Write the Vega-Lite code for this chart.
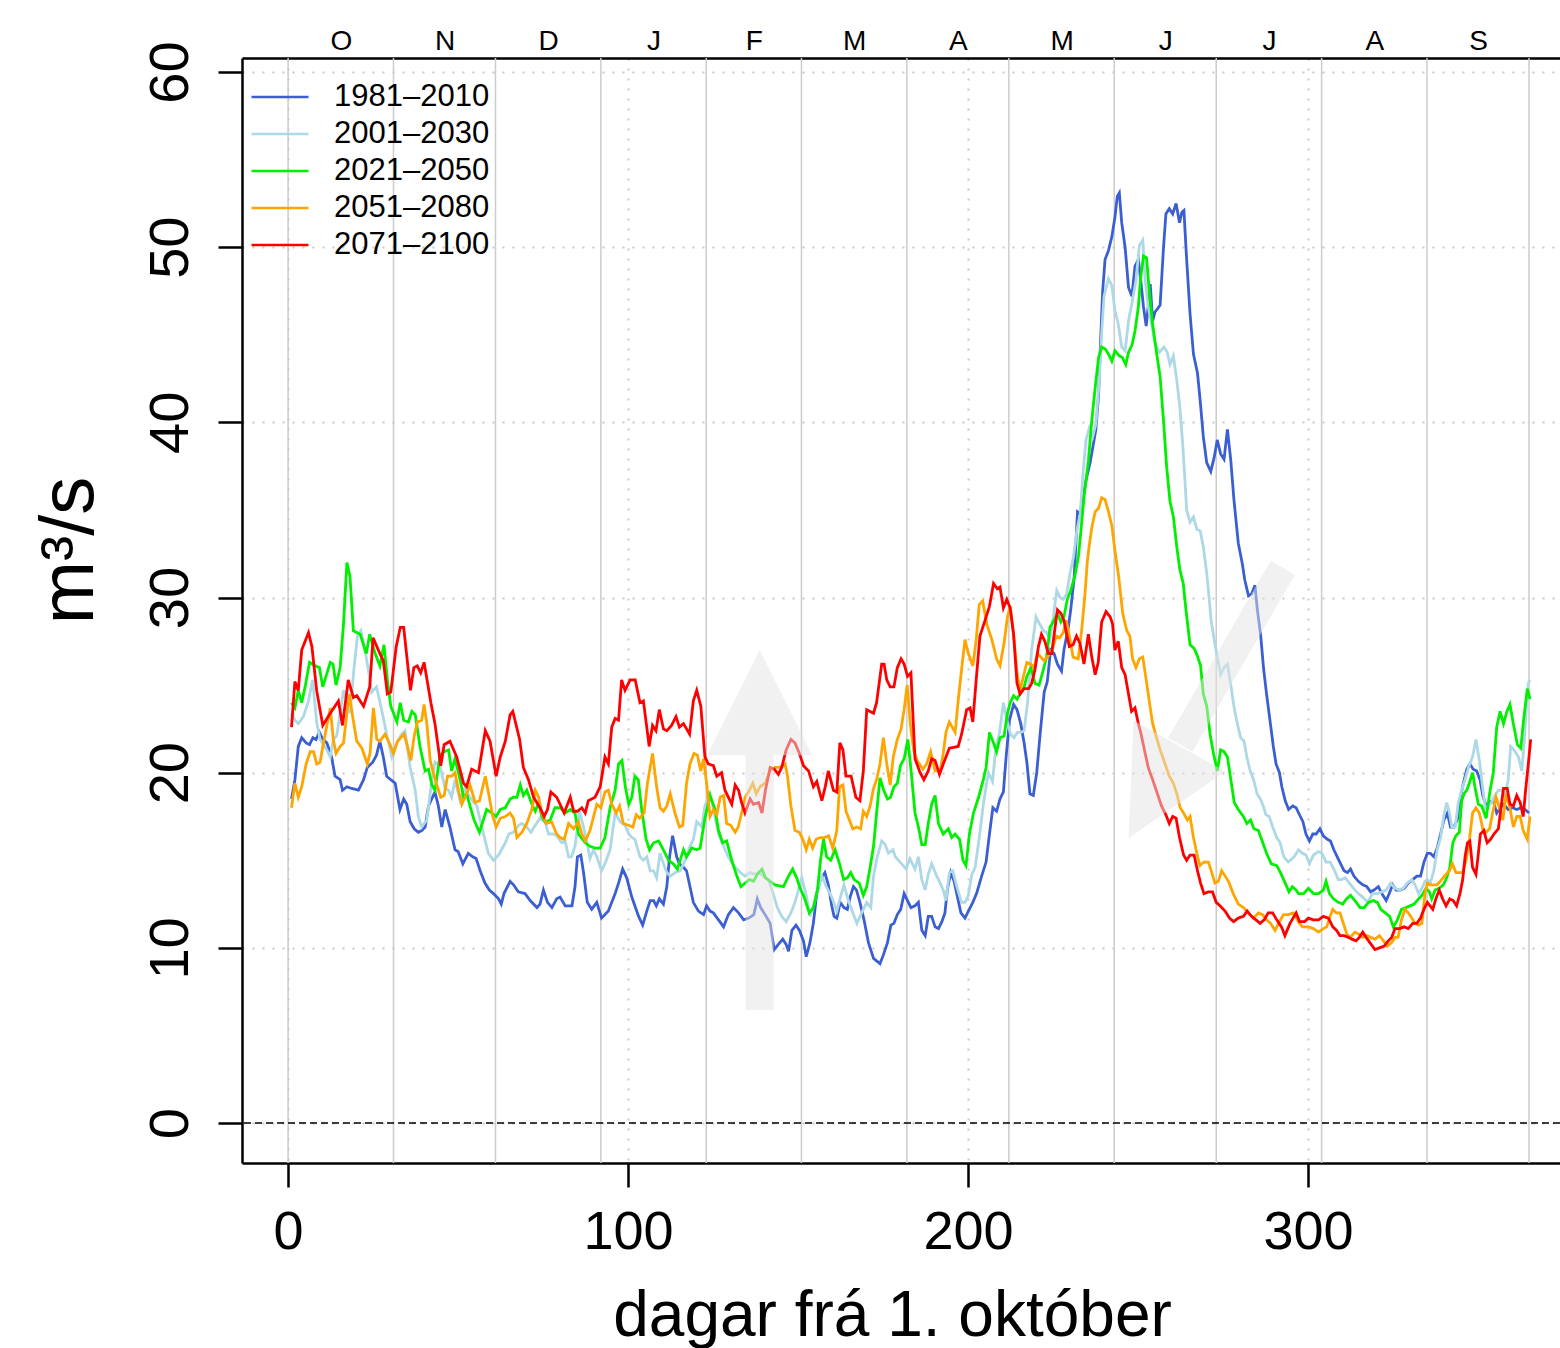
{
"$schema": "https://vega.github.io/schema/vega-lite/v6.json",
"width": 1318,
"height": 1105,
"autosize": {"type": "none"},
"padding": {"left": 242, "top": 58, "right": 0, "bottom": 185},
"background": "white",
"config": {
"font": "Liberation Sans",
"view": {"stroke": null},
"axis": {"labelFont": "Liberation Sans", "titleFont": "Liberation Sans", "labelColor": "black", "titleColor": "black", "domainColor": "black", "tickColor": "black", "titleFontWeight": "normal", "labelFlush": false, "labelOverlap": false}
},
"datasets": {
"bounds": [{"d":0},{"d":31},{"d":61},{"d":92},{"d":123},{"d":151},{"d":182},{"d":212},{"d":243},{"d":273},{"d":304},{"d":335},{"d":365}],
"shafts": [{"x":138.7,"y":6.45,"x2":138.7,"y2":21.0},{"x":292.6,"y":31.7,"x2":262.4,"y2":21.6}],
"heads": [{"x":138.7,"y":24.0,"a":0},{"x":254.7,"y":18.9,"a":209}],
"s1": [{"d":1,"v":18.5},{"d":2,"v":19.6},{"d":3,"v":21.5},{"d":4,"v":22.0},{"d":5.3,"v":21.7},{"d":6.3,"v":21.6},{"d":7.3,"v":22.0},{"d":8.2,"v":21.9},{"d":9.2,"v":22.3},{"d":10.2,"v":21.9},{"d":11.4,"v":21.7},{"d":12.8,"v":20.9},{"d":13.8,"v":19.8},{"d":15.3,"v":19.6},{"d":16,"v":19.0},{"d":17.3,"v":19.2},{"d":18.7,"v":19.1},{"d":20.7,"v":19.0},{"d":22.2,"v":19.6},{"d":23.3,"v":20.3},{"d":24.9,"v":20.6},{"d":26,"v":21.0},{"d":27,"v":21.8},{"d":28,"v":20.9},{"d":29,"v":19.8},{"d":30.2,"v":19.6},{"d":31.5,"v":19.4},{"d":32.9,"v":17.9},{"d":34,"v":18.5},{"d":34.9,"v":18.2},{"d":35.9,"v":17.2},{"d":37.1,"v":16.8},{"d":38.3,"v":16.6},{"d":39.3,"v":16.7},{"d":40.3,"v":16.9},{"d":41.3,"v":18.1},{"d":43.2,"v":18.9},{"d":44.2,"v":18.1},{"d":45.2,"v":16.9},{"d":46.2,"v":17.9},{"d":47.6,"v":16.9},{"d":49.1,"v":15.6},{"d":50,"v":15.5},{"d":51.4,"v":14.8},{"d":53,"v":15.4},{"d":54.3,"v":15.2},{"d":55.3,"v":15.1},{"d":56.5,"v":14.4},{"d":57.9,"v":13.7},{"d":59.2,"v":13.3},{"d":60.4,"v":13.1},{"d":61.9,"v":12.8},{"d":62.7,"v":12.5},{"d":63.5,"v":13.1},{"d":65.3,"v":13.8},{"d":66.3,"v":13.6},{"d":67.7,"v":13.2},{"d":69.7,"v":13.1},{"d":71.2,"v":12.7},{"d":73.2,"v":12.3},{"d":74.1,"v":12.5},{"d":75.1,"v":13.3},{"d":76.3,"v":12.6},{"d":77.6,"v":12.3},{"d":79,"v":12.8},{"d":80,"v":12.9},{"d":81.5,"v":12.4},{"d":83.5,"v":12.4},{"d":84.4,"v":13.5},{"d":85.1,"v":15.2},{"d":86.1,"v":15.3},{"d":86.9,"v":14.3},{"d":88,"v":12.6},{"d":89.3,"v":12.2},{"d":90.8,"v":12.6},{"d":92.2,"v":11.7},{"d":94.2,"v":12.1},{"d":96.2,"v":13.1},{"d":97.2,"v":13.7},{"d":98.4,"v":14.5},{"d":99.6,"v":14.0},{"d":101.1,"v":12.9},{"d":103.1,"v":11.8},{"d":104.3,"v":11.3},{"d":105.5,"v":12.1},{"d":106.5,"v":12.7},{"d":107.5,"v":12.7},{"d":108.3,"v":12.4},{"d":109.2,"v":12.8},{"d":110.4,"v":12.5},{"d":111.4,"v":13.5},{"d":112.2,"v":15.2},{"d":113.1,"v":16.4},{"d":114.3,"v":15.2},{"d":115.1,"v":14.8},{"d":116.3,"v":14.6},{"d":117.2,"v":14.4},{"d":118.2,"v":13.5},{"d":119.2,"v":12.6},{"d":120.7,"v":12.1},{"d":122.2,"v":11.9},{"d":123.1,"v":12.4},{"d":124.1,"v":12.1},{"d":125.1,"v":12.0},{"d":126.6,"v":11.6},{"d":128.1,"v":11.2},{"d":129.5,"v":11.9},{"d":131,"v":12.3},{"d":132.5,"v":12.0},{"d":134,"v":11.6},{"d":135.5,"v":11.7},{"d":137,"v":11.9},{"d":138,"v":12.8},{"d":139,"v":12.3},{"d":140.3,"v":11.9},{"d":141.8,"v":11.4},{"d":143,"v":9.9},{"d":144.2,"v":10.2},{"d":145.5,"v":10.5},{"d":146.5,"v":10.2},{"d":147.2,"v":9.8},{"d":148.2,"v":11.0},{"d":149.4,"v":11.3},{"d":150.4,"v":11.0},{"d":151.6,"v":10.4},{"d":152.4,"v":9.5},{"d":153.5,"v":10.3},{"d":154.5,"v":11.4},{"d":155.5,"v":13.1},{"d":156.6,"v":13.9},{"d":157.9,"v":14.3},{"d":158.9,"v":13.6},{"d":159.9,"v":12.4},{"d":160.6,"v":11.8},{"d":161.4,"v":11.7},{"d":162.4,"v":12.6},{"d":163.5,"v":12.3},{"d":164.5,"v":12.2},{"d":165.3,"v":12.9},{"d":166.3,"v":13.5},{"d":167.2,"v":13.3},{"d":168.2,"v":12.6},{"d":169.4,"v":11.6},{"d":170.7,"v":10.3},{"d":172.2,"v":9.4},{"d":174.1,"v":9.1},{"d":175.1,"v":9.6},{"d":176.3,"v":10.3},{"d":177.3,"v":11.3},{"d":178.2,"v":11.4},{"d":179.2,"v":11.9},{"d":180.2,"v":12.2},{"d":181.2,"v":13.1},{"d":182.2,"v":12.7},{"d":183.2,"v":12.3},{"d":184.4,"v":12.4},{"d":185.4,"v":12.6},{"d":186.4,"v":11.0},{"d":187.4,"v":10.7},{"d":188.3,"v":11.8},{"d":189.3,"v":11.8},{"d":190.3,"v":11.2},{"d":191.3,"v":11.1},{"d":192.3,"v":11.5},{"d":193.2,"v":12.0},{"d":193.9,"v":13.3},{"d":194.9,"v":14.3},{"d":195.9,"v":13.8},{"d":196.9,"v":12.9},{"d":197.9,"v":12.0},{"d":199.1,"v":11.7},{"d":200.1,"v":12.1},{"d":201.4,"v":12.6},{"d":202.5,"v":13.1},{"d":204,"v":14.1},{"d":205.3,"v":14.9},{"d":206.3,"v":16.5},{"d":207.3,"v":18.0},{"d":208.4,"v":17.8},{"d":209.4,"v":18.5},{"d":210.4,"v":18.9},{"d":211.2,"v":20.9},{"d":212.2,"v":23.0},{"d":213.4,"v":23.9},{"d":214.4,"v":23.6},{"d":215.5,"v":22.8},{"d":216.5,"v":21.7},{"d":217.3,"v":20.6},{"d":218.2,"v":18.8},{"d":219.2,"v":18.7},{"d":220.2,"v":20.0},{"d":221.2,"v":22.2},{"d":222.4,"v":24.6},{"d":223.3,"v":25.2},{"d":224.3,"v":27.0},{"d":225.3,"v":26.8},{"d":226.3,"v":26.2},{"d":227.5,"v":25.8},{"d":228.2,"v":27.0},{"d":229.5,"v":28.3},{"d":230.2,"v":29.3},{"d":231.2,"v":31.1},{"d":232.2,"v":34.9},{"d":233,"v":34.8},{"d":233.7,"v":35.6},{"d":234.7,"v":36.7},{"d":235.9,"v":37.7},{"d":236.9,"v":38.8},{"d":237.6,"v":39.6},{"d":238.4,"v":41.6},{"d":239,"v":44.7},{"d":239.6,"v":47.5},{"d":240.3,"v":49.3},{"d":241.3,"v":49.8},{"d":242.3,"v":50.6},{"d":243.2,"v":51.7},{"d":243.9,"v":52.9},{"d":244.5,"v":53.1},{"d":245.2,"v":51.4},{"d":246.2,"v":50.0},{"d":247.2,"v":47.7},{"d":248.2,"v":47.2},{"d":249.1,"v":48.9},{"d":250.1,"v":49.3},{"d":250.8,"v":48.1},{"d":251.6,"v":46.6},{"d":252.4,"v":45.5},{"d":253.1,"v":46.8},{"d":253.6,"v":47.9},{"d":254.3,"v":45.8},{"d":255,"v":46.3},{"d":255.8,"v":46.5},{"d":256.5,"v":46.7},{"d":257.5,"v":50.0},{"d":258.2,"v":51.9},{"d":259.2,"v":52.2},{"d":260.2,"v":51.9},{"d":261.2,"v":52.5},{"d":262.2,"v":51.4},{"d":262.9,"v":52.0},{"d":263.5,"v":52.1},{"d":264.3,"v":49.3},{"d":265.3,"v":46.2},{"d":266.3,"v":43.9},{"d":267.5,"v":42.8},{"d":268.3,"v":41.2},{"d":269.2,"v":39.2},{"d":270.2,"v":37.7},{"d":271.4,"v":37.2},{"d":272.4,"v":38.0},{"d":273.3,"v":39.0},{"d":274.3,"v":38.2},{"d":275.3,"v":37.9},{"d":276.3,"v":39.6},{"d":277.3,"v":37.8},{"d":278.2,"v":35.6},{"d":279.5,"v":33.1},{"d":280.7,"v":31.9},{"d":281.4,"v":31.0},{"d":282.5,"v":30.1},{"d":283.4,"v":30.2},{"d":284.4,"v":30.7},{"d":285.1,"v":29.3},{"d":286.1,"v":27.8},{"d":286.9,"v":26.0},{"d":287.8,"v":24.5},{"d":288.8,"v":23.0},{"d":289.8,"v":21.5},{"d":290.6,"v":20.5},{"d":291.6,"v":20.0},{"d":292.3,"v":19.2},{"d":293.3,"v":18.4},{"d":294.3,"v":17.9},{"d":295.5,"v":18.1},{"d":296.5,"v":18.0},{"d":297.5,"v":17.6},{"d":298.5,"v":17.2},{"d":299.4,"v":16.5},{"d":300.4,"v":16.1},{"d":301.4,"v":16.5},{"d":302.4,"v":16.5},{"d":303.5,"v":16.8},{"d":304.5,"v":16.4},{"d":305.7,"v":16.2},{"d":306.6,"v":16.1},{"d":307.6,"v":15.6},{"d":308.6,"v":15.2},{"d":309.6,"v":14.8},{"d":310.6,"v":14.4},{"d":311.6,"v":14.3},{"d":312.5,"v":14.5},{"d":313.5,"v":14.1},{"d":314.8,"v":13.8},{"d":316.1,"v":13.6},{"d":317.3,"v":13.5},{"d":318.4,"v":13.2},{"d":319.4,"v":13.3},{"d":320.7,"v":13.5},{"d":321.7,"v":13.1},{"d":323,"v":12.7},{"d":323.9,"v":13.1},{"d":324.9,"v":13.6},{"d":325.9,"v":13.3},{"d":327.1,"v":13.3},{"d":328.3,"v":13.4},{"d":329.5,"v":13.7},{"d":330.8,"v":13.9},{"d":332,"v":14.1},{"d":333.1,"v":14.1},{"d":334.1,"v":14.9},{"d":335.1,"v":15.4},{"d":336,"v":15.4},{"d":337,"v":15.2},{"d":338,"v":15.7},{"d":339,"v":16.5},{"d":340,"v":17.3},{"d":341,"v":17.7},{"d":341.9,"v":16.9},{"d":342.9,"v":16.9},{"d":343.9,"v":17.3},{"d":344.7,"v":18.5},{"d":345.7,"v":19.4},{"d":346.7,"v":20.2},{"d":347.6,"v":20.5},{"d":348.6,"v":20.2},{"d":349.6,"v":20.1},{"d":350.6,"v":19.6},{"d":351.4,"v":18.7},{"d":352.4,"v":18.1},{"d":353.4,"v":18.3},{"d":354.5,"v":18.4},{"d":355.5,"v":17.7},{"d":356.6,"v":18.0},{"d":357.5,"v":18.2},{"d":358.9,"v":17.9},{"d":360.2,"v":18.0},{"d":361.4,"v":17.9},{"d":362.6,"v":18.0},{"d":363.8,"v":17.9},{"d":365,"v":17.7}],
"s2": [{"d":1,"v":23.4},{"d":2,"v":23.0},{"d":3,"v":22.8},{"d":4.5,"v":23.2},{"d":6,"v":24.1},{"d":7.2,"v":25.3},{"d":8.4,"v":22.9},{"d":9.4,"v":21.9},{"d":11.4,"v":21.3},{"d":12.4,"v":20.9},{"d":13.3,"v":21.9},{"d":14.3,"v":22.1},{"d":15.3,"v":23.4},{"d":16.3,"v":24.7},{"d":17.3,"v":24.1},{"d":18.2,"v":23.4},{"d":19.4,"v":26.0},{"d":20.4,"v":27.8},{"d":21.4,"v":28.1},{"d":22.6,"v":27.0},{"d":23.6,"v":25.9},{"d":24.6,"v":24.6},{"d":26,"v":24.9},{"d":27.5,"v":23.6},{"d":29,"v":22.2},{"d":30.5,"v":20.9},{"d":32,"v":21.7},{"d":33.4,"v":22.2},{"d":34.4,"v":22.4},{"d":35.9,"v":20.3},{"d":37.4,"v":19.0},{"d":38.3,"v":17.5},{"d":39.3,"v":16.9},{"d":40.8,"v":17.3},{"d":42.3,"v":19.6},{"d":43.2,"v":20.6},{"d":44.7,"v":20.4},{"d":46.2,"v":19.1},{"d":47.2,"v":19.0},{"d":48.1,"v":18.6},{"d":49.1,"v":19.6},{"d":50.6,"v":18.4},{"d":52,"v":19.1},{"d":53.5,"v":18.6},{"d":55.5,"v":18.1},{"d":57.5,"v":16.5},{"d":58.9,"v":15.4},{"d":60.4,"v":15.0},{"d":61.9,"v":15.3},{"d":63.9,"v":16.0},{"d":64.9,"v":16.5},{"d":66.3,"v":16.6},{"d":67.8,"v":17.0},{"d":68.8,"v":17.1},{"d":70.2,"v":16.9},{"d":71.4,"v":16.6},{"d":72.7,"v":17.0},{"d":74.1,"v":17.4},{"d":75.6,"v":17.2},{"d":76.6,"v":16.5},{"d":78,"v":16.5},{"d":79,"v":16.4},{"d":80.5,"v":16.0},{"d":81.5,"v":16.1},{"d":82.5,"v":15.2},{"d":83.4,"v":15.2},{"d":84.4,"v":15.8},{"d":85.7,"v":17.8},{"d":86.9,"v":16.9},{"d":87.8,"v":16.1},{"d":88.8,"v":15.1},{"d":89.8,"v":15.6},{"d":90.8,"v":15.2},{"d":92.2,"v":14.4},{"d":93.2,"v":14.8},{"d":94.7,"v":15.6},{"d":96.2,"v":17.7},{"d":97.7,"v":17.2},{"d":99.1,"v":17.0},{"d":100.2,"v":16.5},{"d":101.1,"v":16.3},{"d":102,"v":16.2},{"d":103.5,"v":15.2},{"d":104.5,"v":15.0},{"d":105.5,"v":15.2},{"d":106.5,"v":14.4},{"d":107.5,"v":14.4},{"d":108.4,"v":14.0},{"d":109.4,"v":15.4},{"d":110.4,"v":14.8},{"d":111.4,"v":14.3},{"d":112.4,"v":14.1},{"d":113.9,"v":14.3},{"d":115.3,"v":14.4},{"d":116.8,"v":15.0},{"d":118.2,"v":15.8},{"d":119.2,"v":16.2},{"d":120.2,"v":17.2},{"d":121.7,"v":16.9},{"d":122.6,"v":18.1},{"d":124.1,"v":18.8},{"d":125.1,"v":17.9},{"d":126.6,"v":16.5},{"d":128.1,"v":15.8},{"d":129.5,"v":15.2},{"d":131,"v":14.7},{"d":133,"v":14.3},{"d":134.4,"v":14.1},{"d":135.9,"v":14.3},{"d":137.4,"v":14.2},{"d":138.4,"v":14.3},{"d":139.8,"v":14.1},{"d":141.3,"v":13.9},{"d":142.7,"v":13.1},{"d":143.9,"v":12.3},{"d":145.2,"v":11.8},{"d":146.5,"v":11.5},{"d":147.9,"v":12.0},{"d":149.1,"v":12.6},{"d":150.1,"v":13.3},{"d":151.1,"v":14.0},{"d":152.4,"v":13.0},{"d":153.5,"v":11.8},{"d":154.7,"v":12.5},{"d":156,"v":13.5},{"d":157,"v":14.1},{"d":158.3,"v":13.5},{"d":159.9,"v":12.9},{"d":161.4,"v":12.1},{"d":162.6,"v":13.0},{"d":163.5,"v":13.6},{"d":164.8,"v":12.7},{"d":166.3,"v":11.9},{"d":167.3,"v":11.4},{"d":168.7,"v":12.0},{"d":170.2,"v":12.6},{"d":171.4,"v":12.3},{"d":172.2,"v":14.1},{"d":173.3,"v":15.2},{"d":174.6,"v":16.1},{"d":175.6,"v":15.9},{"d":176.6,"v":15.4},{"d":177.9,"v":15.6},{"d":178.6,"v":15.2},{"d":180.5,"v":14.8},{"d":181.8,"v":14.5},{"d":182.9,"v":15.1},{"d":184.4,"v":14.5},{"d":185.4,"v":15.2},{"d":186.4,"v":13.9},{"d":187.4,"v":13.3},{"d":188.3,"v":14.2},{"d":189.3,"v":14.8},{"d":190.8,"v":14.1},{"d":191.8,"v":13.7},{"d":192.7,"v":13.3},{"d":193.5,"v":12.7},{"d":194.5,"v":14.3},{"d":195.5,"v":14.4},{"d":196.7,"v":13.5},{"d":198.1,"v":12.6},{"d":199.1,"v":12.6},{"d":200.1,"v":13.0},{"d":201.1,"v":14.2},{"d":202.1,"v":14.6},{"d":203.3,"v":16.3},{"d":204.5,"v":18.2},{"d":205.3,"v":19.2},{"d":206,"v":20.0},{"d":207.2,"v":19.5},{"d":208.2,"v":21.5},{"d":209.2,"v":22.2},{"d":210.4,"v":24.0},{"d":211.4,"v":23.0},{"d":212.5,"v":22.2},{"d":213.5,"v":22.0},{"d":214.5,"v":22.3},{"d":215.5,"v":22.3},{"d":216.5,"v":22.4},{"d":217.5,"v":24.0},{"d":218.7,"v":27.0},{"d":220,"v":28.9},{"d":221,"v":28.5},{"d":222.2,"v":28.1},{"d":223.1,"v":28.0},{"d":224.1,"v":27.6},{"d":225.1,"v":28.9},{"d":226.1,"v":30.4},{"d":227.1,"v":30.0},{"d":228,"v":29.9},{"d":229,"v":30.2},{"d":230,"v":31.4},{"d":231,"v":32.3},{"d":232,"v":33.8},{"d":233,"v":34.8},{"d":233.9,"v":37.3},{"d":234.7,"v":39.0},{"d":235.7,"v":39.7},{"d":236.7,"v":39.2},{"d":237.6,"v":39.9},{"d":238.6,"v":42.4},{"d":239.3,"v":45.1},{"d":240,"v":47.2},{"d":241.3,"v":48.2},{"d":242.3,"v":47.8},{"d":243.2,"v":46.4},{"d":244.2,"v":45.6},{"d":245.2,"v":44.3},{"d":246.2,"v":44.1},{"d":247.2,"v":45.8},{"d":248.2,"v":46.8},{"d":249.4,"v":48.1},{"d":250.4,"v":50.1},{"d":251.4,"v":50.4},{"d":252.1,"v":48.1},{"d":253,"v":46.6},{"d":254.1,"v":45.5},{"d":255,"v":44.5},{"d":256.3,"v":44.0},{"d":257.6,"v":44.3},{"d":258.6,"v":44.0},{"d":259.4,"v":43.3},{"d":260.4,"v":43.8},{"d":261.4,"v":42.4},{"d":262.3,"v":40.9},{"d":263.2,"v":38.6},{"d":263.8,"v":36.7},{"d":264.3,"v":35.0},{"d":265.3,"v":34.3},{"d":266.3,"v":34.6},{"d":267.3,"v":33.9},{"d":268.3,"v":33.8},{"d":269.2,"v":32.9},{"d":270.2,"v":31.4},{"d":270.7,"v":30.4},{"d":271.5,"v":28.7},{"d":272.4,"v":27.6},{"d":273.3,"v":26.6},{"d":274.3,"v":25.6},{"d":275.3,"v":26.0},{"d":276.3,"v":26.2},{"d":277.3,"v":25.0},{"d":278.2,"v":23.8},{"d":279.2,"v":22.8},{"d":280.2,"v":22.0},{"d":281.2,"v":21.8},{"d":282,"v":20.9},{"d":283,"v":20.1},{"d":284,"v":19.6},{"d":285,"v":18.8},{"d":286,"v":18.5},{"d":287,"v":18.0},{"d":287.6,"v":17.6},{"d":288.6,"v":17.5},{"d":289.6,"v":16.9},{"d":290.8,"v":16.3},{"d":291.8,"v":16.0},{"d":292.9,"v":15.2},{"d":294.2,"v":14.9},{"d":295.9,"v":15.2},{"d":297.2,"v":15.6},{"d":298.4,"v":15.4},{"d":299.4,"v":15.3},{"d":300.4,"v":14.8},{"d":301.6,"v":15.3},{"d":303.1,"v":15.5},{"d":304.1,"v":15.4},{"d":305.3,"v":14.9},{"d":306.5,"v":14.9},{"d":307.6,"v":14.5},{"d":308.9,"v":13.9},{"d":309.9,"v":13.9},{"d":310.9,"v":14.0},{"d":312.2,"v":13.7},{"d":313.4,"v":13.4},{"d":314.8,"v":13.1},{"d":316.1,"v":12.9},{"d":317.5,"v":12.6},{"d":319,"v":13.1},{"d":320.4,"v":13.1},{"d":321.7,"v":13.2},{"d":323,"v":13.3},{"d":324.3,"v":13.7},{"d":325.6,"v":13.4},{"d":326.9,"v":13.3},{"d":328,"v":13.4},{"d":329.2,"v":13.7},{"d":330.5,"v":13.9},{"d":331.5,"v":13.6},{"d":332.5,"v":13.1},{"d":333.5,"v":13.4},{"d":334.4,"v":13.8},{"d":335.1,"v":13.9},{"d":336,"v":13.7},{"d":337,"v":14.4},{"d":338,"v":15.6},{"d":339,"v":16.3},{"d":340,"v":17.6},{"d":340.8,"v":18.3},{"d":341.6,"v":17.7},{"d":342.3,"v":16.9},{"d":343.3,"v":16.9},{"d":344.2,"v":18.3},{"d":345.2,"v":19.0},{"d":346.2,"v":19.6},{"d":347.2,"v":20.3},{"d":348.4,"v":20.9},{"d":349.4,"v":21.9},{"d":350.4,"v":20.7},{"d":351.1,"v":19.6},{"d":352.1,"v":18.0},{"d":353,"v":18.1},{"d":354,"v":18.3},{"d":355,"v":18.7},{"d":356,"v":19.0},{"d":357,"v":19.0},{"d":357.9,"v":18.7},{"d":358.9,"v":19.6},{"d":359.6,"v":21.5},{"d":360.6,"v":21.3},{"d":361.9,"v":20.9},{"d":362.9,"v":20.1},{"d":363.6,"v":21.8},{"d":364.2,"v":23.6},{"d":364.8,"v":25.1},{"d":365.3,"v":25.3}],
"s3": [{"d":1,"v":24.0},{"d":2,"v":23.7},{"d":3,"v":24.7},{"d":4,"v":24.0},{"d":5,"v":24.9},{"d":6.3,"v":26.3},{"d":8,"v":26.1},{"d":9.2,"v":26.0},{"d":10.2,"v":24.9},{"d":12.4,"v":26.3},{"d":13.2,"v":26.2},{"d":14.1,"v":25.0},{"d":15.3,"v":26.0},{"d":16.3,"v":28.5},{"d":17.3,"v":32.0},{"d":18.2,"v":31.2},{"d":19.2,"v":28.1},{"d":21.2,"v":27.9},{"d":23,"v":26.8},{"d":24,"v":27.9},{"d":25.6,"v":26.8},{"d":27,"v":26.1},{"d":28.2,"v":27.3},{"d":29.2,"v":25.3},{"d":30.2,"v":23.8},{"d":32,"v":22.9},{"d":33,"v":24.0},{"d":34,"v":23.0},{"d":35.4,"v":22.9},{"d":36.4,"v":23.5},{"d":37.4,"v":23.3},{"d":38.8,"v":21.5},{"d":40.3,"v":20.1},{"d":41.3,"v":20.2},{"d":42.3,"v":19.3},{"d":43.2,"v":19.0},{"d":44.7,"v":21.0},{"d":45.9,"v":21.2},{"d":47.2,"v":21.3},{"d":48.1,"v":20.1},{"d":49.1,"v":20.8},{"d":50.6,"v":19.6},{"d":51.6,"v":18.6},{"d":52.5,"v":18.8},{"d":53.5,"v":18.1},{"d":54.7,"v":17.3},{"d":56.3,"v":16.6},{"d":58.4,"v":17.9},{"d":60,"v":17.7},{"d":61.2,"v":17.5},{"d":62.4,"v":17.9},{"d":63.9,"v":18.0},{"d":65.3,"v":18.5},{"d":66.3,"v":18.6},{"d":67.3,"v":18.6},{"d":68.3,"v":19.3},{"d":69.2,"v":18.7},{"d":70.2,"v":19.0},{"d":71.7,"v":18.2},{"d":72.7,"v":17.8},{"d":73.7,"v":18.3},{"d":74.6,"v":17.5},{"d":75.6,"v":17.2},{"d":77.1,"v":17.3},{"d":78.5,"v":18.0},{"d":80,"v":18.0},{"d":81.5,"v":17.7},{"d":83,"v":17.9},{"d":84.4,"v":17.7},{"d":85.4,"v":16.5},{"d":87.4,"v":16.0},{"d":88.8,"v":15.8},{"d":90.3,"v":15.7},{"d":91.8,"v":15.7},{"d":93.2,"v":16.3},{"d":94.7,"v":18.0},{"d":96.2,"v":19.0},{"d":97.2,"v":20.5},{"d":98.2,"v":20.7},{"d":99.2,"v":19.2},{"d":100.2,"v":18.2},{"d":101.1,"v":18.6},{"d":102,"v":19.8},{"d":103,"v":19.6},{"d":104,"v":17.9},{"d":105.3,"v":16.2},{"d":106.3,"v":15.6},{"d":107.5,"v":16.0},{"d":109,"v":16.1},{"d":110.4,"v":15.6},{"d":111.9,"v":15.0},{"d":113.3,"v":14.8},{"d":114.5,"v":14.5},{"d":115.3,"v":15.0},{"d":116.3,"v":15.6},{"d":117.2,"v":15.2},{"d":118.7,"v":15.7},{"d":120.2,"v":15.6},{"d":121.2,"v":15.7},{"d":122.6,"v":17.4},{"d":124.1,"v":18.7},{"d":125.6,"v":17.9},{"d":126.6,"v":16.7},{"d":127.8,"v":16.0},{"d":129,"v":16.1},{"d":130.5,"v":15.0},{"d":132,"v":14.1},{"d":133.2,"v":13.5},{"d":134.4,"v":13.7},{"d":135.7,"v":13.9},{"d":136.9,"v":13.8},{"d":138,"v":14.2},{"d":139.4,"v":14.5},{"d":140.4,"v":14.0},{"d":141.8,"v":13.8},{"d":143.2,"v":13.6},{"d":145.7,"v":13.5},{"d":147.2,"v":14.1},{"d":148.4,"v":14.5},{"d":149.6,"v":14.0},{"d":150.6,"v":13.4},{"d":151.8,"v":12.9},{"d":153.3,"v":12.0},{"d":154.5,"v":12.3},{"d":155.7,"v":13.3},{"d":156.6,"v":15.0},{"d":157.5,"v":16.2},{"d":158.4,"v":15.2},{"d":159.6,"v":15.0},{"d":160.9,"v":15.6},{"d":162.2,"v":14.8},{"d":163.4,"v":13.9},{"d":164.5,"v":14.0},{"d":165.5,"v":14.3},{"d":166.5,"v":13.9},{"d":168,"v":13.7},{"d":169.2,"v":13.0},{"d":170.2,"v":13.5},{"d":171.2,"v":14.6},{"d":172.2,"v":15.8},{"d":173.1,"v":17.7},{"d":174.1,"v":19.7},{"d":175.2,"v":19.0},{"d":176.3,"v":18.5},{"d":177.2,"v":18.6},{"d":178.2,"v":19.2},{"d":179.2,"v":19.4},{"d":180.1,"v":20.4},{"d":181.2,"v":20.8},{"d":182.3,"v":21.9},{"d":183.2,"v":20.2},{"d":184.4,"v":17.7},{"d":185.4,"v":16.9},{"d":186.4,"v":15.9},{"d":187.4,"v":15.9},{"d":188.3,"v":17.1},{"d":189.3,"v":18.2},{"d":190.3,"v":18.7},{"d":191.3,"v":17.1},{"d":192.7,"v":16.5},{"d":194.2,"v":16.8},{"d":195.2,"v":16.3},{"d":196.2,"v":16.5},{"d":197.5,"v":16.2},{"d":198.5,"v":15.0},{"d":199.4,"v":14.7},{"d":200.4,"v":16.5},{"d":201.6,"v":17.7},{"d":203.1,"v":18.6},{"d":204.5,"v":19.6},{"d":205.3,"v":20.3},{"d":206.3,"v":22.3},{"d":207.5,"v":21.7},{"d":208.4,"v":21.2},{"d":209.4,"v":22.0},{"d":210.6,"v":22.1},{"d":211.6,"v":23.4},{"d":212.4,"v":24.0},{"d":213.4,"v":24.4},{"d":214.4,"v":24.2},{"d":215.3,"v":24.5},{"d":216.5,"v":24.9},{"d":217.3,"v":25.5},{"d":218.5,"v":26.0},{"d":219.7,"v":25.1},{"d":220.9,"v":25.0},{"d":221.9,"v":25.7},{"d":223.1,"v":26.6},{"d":224.1,"v":28.3},{"d":225.3,"v":28.7},{"d":226.3,"v":29.1},{"d":227.3,"v":28.6},{"d":228.2,"v":28.9},{"d":229.2,"v":29.9},{"d":230.2,"v":30.4},{"d":231.5,"v":31.3},{"d":232.5,"v":32.4},{"d":233.2,"v":33.8},{"d":234.1,"v":35.7},{"d":235.4,"v":37.8},{"d":236.4,"v":40.1},{"d":237.4,"v":42.0},{"d":238.4,"v":43.7},{"d":239.3,"v":44.3},{"d":240.3,"v":44.2},{"d":241.3,"v":43.9},{"d":242.3,"v":43.5},{"d":243.2,"v":44.1},{"d":244.5,"v":43.8},{"d":245.4,"v":43.7},{"d":246.4,"v":43.3},{"d":247.2,"v":44.0},{"d":248.2,"v":44.4},{"d":249.1,"v":45.2},{"d":250.1,"v":46.6},{"d":250.8,"v":48.3},{"d":251.6,"v":49.5},{"d":252.5,"v":49.4},{"d":253.3,"v":47.5},{"d":254.3,"v":45.6},{"d":255.5,"v":43.9},{"d":256.5,"v":42.6},{"d":257.5,"v":40.1},{"d":258.4,"v":37.5},{"d":259.4,"v":35.5},{"d":260.4,"v":34.6},{"d":261.4,"v":32.9},{"d":262.3,"v":31.6},{"d":263.3,"v":30.8},{"d":264.1,"v":29.3},{"d":265.3,"v":27.3},{"d":266.5,"v":27.1},{"d":267.4,"v":26.7},{"d":268.4,"v":26.1},{"d":269.2,"v":24.5},{"d":270.2,"v":23.8},{"d":271.2,"v":22.2},{"d":272.2,"v":21.1},{"d":273.3,"v":20.1},{"d":274.3,"v":21.3},{"d":275.3,"v":21.2},{"d":276.3,"v":20.9},{"d":277.3,"v":19.6},{"d":278.3,"v":18.3},{"d":279.5,"v":17.9},{"d":281,"v":17.5},{"d":282,"v":17.1},{"d":283.1,"v":17.3},{"d":284.1,"v":16.8},{"d":285.4,"v":16.7},{"d":286.7,"v":16.0},{"d":287.8,"v":15.4},{"d":289.2,"v":14.8},{"d":290.8,"v":14.7},{"d":291.9,"v":14.3},{"d":293.3,"v":13.7},{"d":294.4,"v":13.2},{"d":295.4,"v":13.5},{"d":296.5,"v":13.3},{"d":297.2,"v":13.1},{"d":298.7,"v":13.1},{"d":300.1,"v":13.4},{"d":301.6,"v":13.1},{"d":303.1,"v":13.1},{"d":304.5,"v":13.3},{"d":305.3,"v":13.8},{"d":306.3,"v":13.1},{"d":307.5,"v":12.8},{"d":308.9,"v":12.6},{"d":310.2,"v":12.5},{"d":311.3,"v":12.8},{"d":312.5,"v":13.0},{"d":313.8,"v":12.7},{"d":315.3,"v":12.3},{"d":316.5,"v":12.3},{"d":317.8,"v":12.6},{"d":319.2,"v":12.7},{"d":320.4,"v":12.6},{"d":321.4,"v":12.2},{"d":322.7,"v":12.0},{"d":324,"v":11.8},{"d":325.1,"v":11.2},{"d":326.3,"v":11.6},{"d":327.5,"v":12.2},{"d":328.8,"v":12.3},{"d":330,"v":12.4},{"d":331.2,"v":12.5},{"d":332.5,"v":12.8},{"d":333.5,"v":13.0},{"d":334.7,"v":13.4},{"d":335.7,"v":13.2},{"d":336.4,"v":12.8},{"d":337.4,"v":13.3},{"d":338.6,"v":13.4},{"d":339.8,"v":13.6},{"d":340.8,"v":14.0},{"d":341.7,"v":14.6},{"d":342.6,"v":16.0},{"d":343.5,"v":16.4},{"d":344.5,"v":16.6},{"d":345.2,"v":18.4},{"d":345.9,"v":18.8},{"d":346.7,"v":19.0},{"d":347.6,"v":19.5},{"d":348.4,"v":20.0},{"d":349.1,"v":19.2},{"d":350.1,"v":18.2},{"d":351.1,"v":18.1},{"d":352.4,"v":17.4},{"d":353.4,"v":18.8},{"d":354.5,"v":20.0},{"d":355.5,"v":22.6},{"d":356.5,"v":23.5},{"d":357.5,"v":22.8},{"d":358.5,"v":23.5},{"d":359.4,"v":23.9},{"d":360.4,"v":22.8},{"d":361.6,"v":21.6},{"d":362.6,"v":21.4},{"d":363.3,"v":22.8},{"d":364.5,"v":24.8},{"d":365.3,"v":24.2}],
"s4": [{"d":1,"v":18.0},{"d":2,"v":19.4},{"d":3,"v":18.6},{"d":4,"v":19.2},{"d":5.3,"v":20.5},{"d":6.5,"v":21.2},{"d":7.5,"v":21.2},{"d":8.4,"v":20.5},{"d":9.4,"v":20.6},{"d":10.4,"v":21.7},{"d":11.4,"v":22.7},{"d":12.4,"v":23.7},{"d":13.3,"v":21.9},{"d":14.1,"v":21.1},{"d":15.3,"v":21.5},{"d":16.3,"v":21.7},{"d":17.3,"v":23.4},{"d":18,"v":24.5},{"d":19,"v":23.2},{"d":20.2,"v":21.8},{"d":21.7,"v":21.4},{"d":23.3,"v":20.5},{"d":24.1,"v":21.1},{"d":25.1,"v":23.7},{"d":26.1,"v":21.9},{"d":27,"v":21.8},{"d":28.5,"v":22.2},{"d":30,"v":21.6},{"d":31,"v":21.1},{"d":32.2,"v":21.8},{"d":34.1,"v":22.2},{"d":35.1,"v":21.5},{"d":36.1,"v":20.7},{"d":37.1,"v":22.1},{"d":38,"v":22.9},{"d":39.3,"v":23.0},{"d":40,"v":23.9},{"d":40.8,"v":22.8},{"d":41.8,"v":20.7},{"d":42.7,"v":20.0},{"d":43.9,"v":19.2},{"d":44.9,"v":18.6},{"d":45.9,"v":18.7},{"d":46.9,"v":19.8},{"d":48.1,"v":19.8},{"d":49.1,"v":20.0},{"d":50.1,"v":19.0},{"d":51.1,"v":18.2},{"d":52.5,"v":18.8},{"d":53.5,"v":19.3},{"d":55,"v":18.3},{"d":56.3,"v":18.4},{"d":58,"v":19.8},{"d":59,"v":18.8},{"d":60.2,"v":17.5},{"d":61.2,"v":16.9},{"d":62.4,"v":17.4},{"d":63.9,"v":17.5},{"d":65.3,"v":17.7},{"d":66.3,"v":17.4},{"d":67.3,"v":16.3},{"d":68.8,"v":16.6},{"d":70.2,"v":17.1},{"d":71.7,"v":17.9},{"d":72.7,"v":19.0},{"d":73.7,"v":18.6},{"d":74.6,"v":17.7},{"d":76,"v":17.1},{"d":77.5,"v":17.2},{"d":79,"v":16.5},{"d":80,"v":16.3},{"d":81.2,"v":16.2},{"d":82.5,"v":17.1},{"d":84,"v":16.8},{"d":85.4,"v":17.2},{"d":86.4,"v":16.5},{"d":87.4,"v":16.1},{"d":88.8,"v":16.7},{"d":90.8,"v":18.2},{"d":92,"v":18.0},{"d":93.2,"v":18.9},{"d":94.2,"v":19.0},{"d":95.2,"v":18.2},{"d":96.5,"v":17.7},{"d":97.5,"v":18.1},{"d":98.6,"v":17.1},{"d":100.1,"v":17.0},{"d":101.4,"v":16.9},{"d":102.4,"v":17.6},{"d":103.4,"v":17.4},{"d":104.7,"v":17.7},{"d":105.7,"v":19.4},{"d":107.2,"v":21.1},{"d":108.4,"v":19.2},{"d":109.4,"v":18.0},{"d":110.4,"v":17.8},{"d":111.4,"v":18.1},{"d":112.4,"v":18.8},{"d":113.8,"v":17.7},{"d":115.1,"v":16.9},{"d":116.1,"v":17.0},{"d":117.2,"v":19.4},{"d":118.2,"v":20.5},{"d":119.4,"v":21.1},{"d":120.4,"v":21.0},{"d":121.4,"v":20.1},{"d":122.2,"v":20.8},{"d":123.1,"v":19.4},{"d":124.1,"v":17.5},{"d":125.1,"v":17.9},{"d":126.1,"v":17.6},{"d":127.1,"v":18.6},{"d":128.1,"v":18.7},{"d":129,"v":17.1},{"d":130.2,"v":17.0},{"d":131.5,"v":16.6},{"d":132.4,"v":16.9},{"d":133.4,"v":17.7},{"d":134.4,"v":18.6},{"d":135.7,"v":19.0},{"d":136.7,"v":19.4},{"d":137.7,"v":18.8},{"d":138.8,"v":19.2},{"d":140.3,"v":19.4},{"d":141.8,"v":20.1},{"d":143.2,"v":20.3},{"d":144.7,"v":20.3},{"d":146.2,"v":20.5},{"d":146.9,"v":19.8},{"d":147.9,"v":18.1},{"d":149.1,"v":16.7},{"d":150.4,"v":16.6},{"d":151.4,"v":16.2},{"d":152.4,"v":15.6},{"d":153.3,"v":16.2},{"d":154.3,"v":15.7},{"d":155.3,"v":16.2},{"d":156.5,"v":16.3},{"d":157.7,"v":16.3},{"d":159,"v":16.4},{"d":160.2,"v":15.7},{"d":161.4,"v":16.7},{"d":162.2,"v":19.2},{"d":163.2,"v":19.3},{"d":164.1,"v":17.8},{"d":165.3,"v":17.2},{"d":166.1,"v":16.8},{"d":167.3,"v":16.9},{"d":168.4,"v":16.8},{"d":169.2,"v":17.8},{"d":170.2,"v":17.5},{"d":171.2,"v":18.1},{"d":172.2,"v":19.1},{"d":173.1,"v":19.6},{"d":174.1,"v":20.5},{"d":175.1,"v":22.0},{"d":176.1,"v":20.5},{"d":177.1,"v":19.3},{"d":178,"v":20.9},{"d":179.2,"v":21.9},{"d":180.3,"v":22.5},{"d":181.2,"v":23.6},{"d":182.1,"v":25.0},{"d":183,"v":22.8},{"d":184,"v":21.3},{"d":185,"v":20.7},{"d":186.7,"v":20.2},{"d":187.8,"v":20.5},{"d":189,"v":21.2},{"d":190.3,"v":20.1},{"d":191.8,"v":20.1},{"d":192.7,"v":21.1},{"d":193.5,"v":22.3},{"d":194.5,"v":22.9},{"d":196.2,"v":22.3},{"d":197.2,"v":24.3},{"d":198.1,"v":25.9},{"d":199.1,"v":27.6},{"d":200.1,"v":26.8},{"d":201.4,"v":26.1},{"d":202.4,"v":27.6},{"d":203.3,"v":29.6},{"d":204.3,"v":29.8},{"d":205.5,"v":28.5},{"d":207,"v":27.6},{"d":208.4,"v":26.5},{"d":209.4,"v":26.1},{"d":210.6,"v":27.4},{"d":211.6,"v":28.9},{"d":212.4,"v":29.5},{"d":213.4,"v":27.9},{"d":214.4,"v":25.7},{"d":215.3,"v":24.7},{"d":216.3,"v":25.5},{"d":217.3,"v":26.3},{"d":218.5,"v":26.2},{"d":219.4,"v":26.0},{"d":220.4,"v":26.8},{"d":221.4,"v":26.6},{"d":222.4,"v":26.4},{"d":223.7,"v":26.7},{"d":224.9,"v":27.1},{"d":225.9,"v":27.8},{"d":226.9,"v":27.7},{"d":228,"v":28.0},{"d":228.9,"v":28.7},{"d":230,"v":27.6},{"d":230.9,"v":26.6},{"d":232.4,"v":26.5},{"d":233.4,"v":28.1},{"d":234.4,"v":30.2},{"d":235.1,"v":32.1},{"d":235.6,"v":32.9},{"d":236.4,"v":34.0},{"d":237.4,"v":34.9},{"d":238.4,"v":35.1},{"d":239.3,"v":35.7},{"d":240.3,"v":35.6},{"d":241.3,"v":34.9},{"d":242.3,"v":34.1},{"d":243.2,"v":32.7},{"d":244.3,"v":31.2},{"d":245.5,"v":29.1},{"d":246.7,"v":28.1},{"d":247.6,"v":27.8},{"d":248.4,"v":26.5},{"d":249.4,"v":26.0},{"d":250.4,"v":26.5},{"d":251.4,"v":26.6},{"d":252.4,"v":25.3},{"d":253.3,"v":24.1},{"d":254.3,"v":22.8},{"d":255.3,"v":22.1},{"d":256.5,"v":21.3},{"d":257.6,"v":20.7},{"d":259.2,"v":19.8},{"d":260.4,"v":19.4},{"d":261.4,"v":18.8},{"d":262.4,"v":18.0},{"d":263.4,"v":17.7},{"d":264.5,"v":17.3},{"d":265.3,"v":17.5},{"d":266.3,"v":16.3},{"d":267.3,"v":15.4},{"d":268.2,"v":14.7},{"d":269.4,"v":14.9},{"d":270.7,"v":14.9},{"d":271.7,"v":14.3},{"d":272.6,"v":13.7},{"d":273.6,"v":13.8},{"d":274.6,"v":14.4},{"d":275.6,"v":14.1},{"d":276.6,"v":13.8},{"d":278,"v":13.1},{"d":279.5,"v":12.5},{"d":281,"v":12.3},{"d":282.5,"v":12.0},{"d":283.9,"v":11.7},{"d":285.4,"v":12.0},{"d":286.6,"v":11.9},{"d":287.8,"v":11.6},{"d":289,"v":11.4},{"d":290.3,"v":11.0},{"d":291.6,"v":11.5},{"d":292.8,"v":11.9},{"d":294.2,"v":11.9},{"d":295.7,"v":12.0},{"d":297.5,"v":11.4},{"d":298.4,"v":11.2},{"d":300.1,"v":11.2},{"d":301.6,"v":11.1},{"d":303.1,"v":10.9},{"d":304.5,"v":11.1},{"d":305.5,"v":11.2},{"d":306.5,"v":11.8},{"d":307.3,"v":12.2},{"d":308.3,"v":12.0},{"d":309.4,"v":12.0},{"d":310.4,"v":11.4},{"d":311.4,"v":10.8},{"d":312.4,"v":10.6},{"d":313.8,"v":10.9},{"d":314.8,"v":10.8},{"d":316.1,"v":10.6},{"d":317.3,"v":10.7},{"d":318.4,"v":10.6},{"d":319.7,"v":10.5},{"d":321,"v":10.7},{"d":322.2,"v":10.4},{"d":323.3,"v":10.1},{"d":324.6,"v":10.3},{"d":325.6,"v":10.6},{"d":326.5,"v":10.6},{"d":327.5,"v":11.6},{"d":328.5,"v":12.2},{"d":329.5,"v":12.0},{"d":330.5,"v":11.7},{"d":331.5,"v":11.4},{"d":332.5,"v":11.3},{"d":333.5,"v":11.4},{"d":334.4,"v":13.1},{"d":335.1,"v":13.7},{"d":336,"v":13.6},{"d":337,"v":13.6},{"d":338,"v":13.6},{"d":339.3,"v":13.9},{"d":340.6,"v":14.2},{"d":341.6,"v":14.4},{"d":342.5,"v":14.8},{"d":343.5,"v":14.3},{"d":344.5,"v":14.3},{"d":345.5,"v":14.3},{"d":346.5,"v":15.0},{"d":347.5,"v":16.2},{"d":348.4,"v":17.7},{"d":349.4,"v":18.0},{"d":350.4,"v":17.7},{"d":351.4,"v":16.8},{"d":352.4,"v":16.6},{"d":353.4,"v":16.8},{"d":354.3,"v":17.7},{"d":355.3,"v":18.6},{"d":356.3,"v":18.0},{"d":357.3,"v":17.3},{"d":358.3,"v":18.8},{"d":359.3,"v":18.1},{"d":360.4,"v":16.9},{"d":361.4,"v":17.5},{"d":362.4,"v":17.5},{"d":363.3,"v":16.7},{"d":364.5,"v":16.2},{"d":365.3,"v":17.5}],
"s5": [{"d":1,"v":22.6},{"d":2,"v":25.2},{"d":3,"v":24.7},{"d":4,"v":27.0},{"d":6,"v":28.0},{"d":7,"v":27.2},{"d":8.4,"v":24.7},{"d":10.2,"v":22.7},{"d":12.4,"v":23.4},{"d":14.8,"v":24.1},{"d":16,"v":22.7},{"d":17.7,"v":25.3},{"d":19.2,"v":24.3},{"d":20.2,"v":24.4},{"d":22.2,"v":23.8},{"d":24,"v":24.9},{"d":25,"v":27.7},{"d":27,"v":26.8},{"d":28,"v":26.4},{"d":29.2,"v":24.5},{"d":30.2,"v":24.6},{"d":31.8,"v":27.2},{"d":33,"v":28.3},{"d":34,"v":28.3},{"d":36,"v":24.7},{"d":37,"v":26.0},{"d":38,"v":26.1},{"d":39,"v":25.7},{"d":40,"v":26.3},{"d":42,"v":24.0},{"d":43.2,"v":22.8},{"d":44.9,"v":20.4},{"d":45.9,"v":21.6},{"d":47.6,"v":21.8},{"d":49.6,"v":20.9},{"d":51.6,"v":19.4},{"d":52.5,"v":19.2},{"d":54,"v":20.2},{"d":56,"v":20.0},{"d":58,"v":22.4},{"d":59.4,"v":21.8},{"d":61.2,"v":19.8},{"d":62.4,"v":20.9},{"d":63.9,"v":21.8},{"d":65.3,"v":23.3},{"d":66.1,"v":23.5},{"d":68.1,"v":21.9},{"d":69.2,"v":20.3},{"d":70.7,"v":19.6},{"d":72.2,"v":18.6},{"d":74.1,"v":18.0},{"d":75.3,"v":17.5},{"d":76.3,"v":17.9},{"d":77.3,"v":18.9},{"d":79,"v":18.6},{"d":80,"v":18.2},{"d":81.2,"v":17.7},{"d":83,"v":18.6},{"d":84,"v":17.8},{"d":85.1,"v":17.8},{"d":86.4,"v":18.0},{"d":87.4,"v":17.7},{"d":88.3,"v":18.4},{"d":90.3,"v":18.6},{"d":91.8,"v":19.2},{"d":93.2,"v":20.9},{"d":94.2,"v":20.5},{"d":95.2,"v":22.6},{"d":96.2,"v":23.1},{"d":97.2,"v":23.0},{"d":98.1,"v":25.3},{"d":99.1,"v":24.7},{"d":100.6,"v":25.3},{"d":102.1,"v":25.3},{"d":103.5,"v":24.0},{"d":104.5,"v":24.1},{"d":105.5,"v":22.6},{"d":106.2,"v":21.5},{"d":107.2,"v":22.7},{"d":108.2,"v":22.4},{"d":109.2,"v":23.6},{"d":110.4,"v":22.5},{"d":111.4,"v":22.4},{"d":112.8,"v":22.7},{"d":114.1,"v":23.2},{"d":115.1,"v":22.6},{"d":116.3,"v":22.8},{"d":118.1,"v":22.2},{"d":119.2,"v":24.1},{"d":120.2,"v":24.7},{"d":121.4,"v":23.8},{"d":122.6,"v":20.9},{"d":123.6,"v":20.5},{"d":125.1,"v":20.4},{"d":126.1,"v":19.8},{"d":127.5,"v":20.0},{"d":128.5,"v":19.0},{"d":130.5,"v":18.2},{"d":131.5,"v":19.3},{"d":132.5,"v":19.0},{"d":133.4,"v":18.3},{"d":134.4,"v":17.7},{"d":135.9,"v":18.5},{"d":136.9,"v":18.2},{"d":138.4,"v":18.3},{"d":139.4,"v":17.7},{"d":140.4,"v":19.0},{"d":141.8,"v":20.3},{"d":143,"v":20.2},{"d":144.2,"v":19.9},{"d":145.2,"v":20.3},{"d":146.5,"v":21.3},{"d":147.9,"v":21.9},{"d":149.1,"v":21.7},{"d":150.4,"v":21.1},{"d":151.6,"v":20.4},{"d":153.1,"v":20.1},{"d":154.5,"v":19.2},{"d":155.5,"v":19.5},{"d":157,"v":18.4},{"d":158,"v":19.2},{"d":158.9,"v":20.1},{"d":160.4,"v":19.0},{"d":161.4,"v":18.9},{"d":162.3,"v":21.7},{"d":163.2,"v":21.3},{"d":164.1,"v":19.8},{"d":165.6,"v":19.8},{"d":167,"v":18.6},{"d":168.2,"v":18.4},{"d":169.2,"v":20.1},{"d":170.2,"v":23.6},{"d":171.2,"v":23.5},{"d":172.2,"v":23.4},{"d":173.1,"v":24.0},{"d":174.6,"v":26.2},{"d":175.3,"v":26.2},{"d":176.1,"v":25.3},{"d":177.1,"v":24.9},{"d":178.2,"v":24.9},{"d":179.2,"v":26.0},{"d":180.3,"v":26.5},{"d":181.2,"v":26.2},{"d":182.2,"v":25.5},{"d":183.2,"v":25.7},{"d":184.4,"v":20.8},{"d":185.9,"v":20.0},{"d":187,"v":19.6},{"d":188.3,"v":20.1},{"d":189.3,"v":20.8},{"d":190.3,"v":20.7},{"d":191.6,"v":19.9},{"d":192.7,"v":20.5},{"d":194.5,"v":21.4},{"d":197.1,"v":21.5},{"d":198.1,"v":22.2},{"d":199.6,"v":23.6},{"d":200.6,"v":23.7},{"d":201.4,"v":22.9},{"d":202.4,"v":25.3},{"d":203.5,"v":27.8},{"d":205,"v":28.7},{"d":206.3,"v":29.5},{"d":207.5,"v":30.8},{"d":208.6,"v":30.5},{"d":209.4,"v":30.6},{"d":210.4,"v":29.4},{"d":211.4,"v":29.9},{"d":212.4,"v":29.4},{"d":213.4,"v":27.9},{"d":214.4,"v":25.1},{"d":215.3,"v":24.5},{"d":216.5,"v":24.8},{"d":217.8,"v":24.8},{"d":218.7,"v":25.1},{"d":219.7,"v":25.9},{"d":220.7,"v":27.2},{"d":221.6,"v":27.9},{"d":222.6,"v":27.5},{"d":223.6,"v":26.8},{"d":224.6,"v":26.8},{"d":225.6,"v":28.3},{"d":226.3,"v":29.3},{"d":227.3,"v":29.1},{"d":228.2,"v":28.7},{"d":228.9,"v":28.0},{"d":229.8,"v":27.2},{"d":230.9,"v":27.3},{"d":231.9,"v":27.8},{"d":232.9,"v":27.4},{"d":234.1,"v":26.2},{"d":235.4,"v":27.9},{"d":236.4,"v":26.6},{"d":237.4,"v":25.6},{"d":238.3,"v":26.3},{"d":239.3,"v":28.6},{"d":240.6,"v":29.2},{"d":241.8,"v":28.9},{"d":242.5,"v":28.5},{"d":243.2,"v":27.0},{"d":244.2,"v":27.5},{"d":245.2,"v":26.0},{"d":246.2,"v":25.6},{"d":247.2,"v":24.5},{"d":248.1,"v":23.5},{"d":249.1,"v":23.7},{"d":250.1,"v":22.8},{"d":250.9,"v":22.2},{"d":252,"v":21.2},{"d":253,"v":20.3},{"d":254.3,"v":19.6},{"d":255.7,"v":18.8},{"d":256.9,"v":18.1},{"d":258.2,"v":17.6},{"d":259.2,"v":17.1},{"d":260.2,"v":17.5},{"d":261.2,"v":17.4},{"d":262.2,"v":16.3},{"d":263.4,"v":15.3},{"d":264.3,"v":15.0},{"d":265.3,"v":15.3},{"d":266.5,"v":15.3},{"d":267.5,"v":14.4},{"d":268.4,"v":13.7},{"d":269.4,"v":13.1},{"d":270.7,"v":13.2},{"d":271.9,"v":13.2},{"d":273,"v":12.6},{"d":274.1,"v":12.4},{"d":275.6,"v":12.1},{"d":276.9,"v":11.7},{"d":278.1,"v":11.5},{"d":279.5,"v":11.7},{"d":281,"v":11.8},{"d":282.1,"v":12.1},{"d":283.4,"v":11.8},{"d":284.7,"v":11.6},{"d":285.9,"v":11.4},{"d":287.1,"v":11.6},{"d":288.3,"v":12.0},{"d":289.6,"v":12.0},{"d":290.8,"v":11.6},{"d":292.2,"v":11.2},{"d":293.2,"v":10.7},{"d":294.7,"v":11.4},{"d":296.5,"v":12.0},{"d":297.5,"v":11.5},{"d":299,"v":11.5},{"d":300.1,"v":11.7},{"d":301.6,"v":11.6},{"d":303.1,"v":11.6},{"d":304.5,"v":11.8},{"d":306,"v":11.7},{"d":307.3,"v":11.2},{"d":308.4,"v":11.0},{"d":309.4,"v":10.7},{"d":310.6,"v":10.7},{"d":311.9,"v":10.6},{"d":312.9,"v":10.5},{"d":314.1,"v":10.4},{"d":315.1,"v":10.6},{"d":316.1,"v":10.9},{"d":317.1,"v":10.6},{"d":318.2,"v":10.3},{"d":319.7,"v":9.9},{"d":321,"v":10.0},{"d":322.4,"v":10.1},{"d":323.6,"v":10.4},{"d":324.6,"v":10.6},{"d":325.6,"v":11.1},{"d":326.9,"v":11.1},{"d":328.3,"v":11.2},{"d":329.5,"v":11.1},{"d":330.8,"v":11.4},{"d":332,"v":11.4},{"d":333.1,"v":11.7},{"d":334.1,"v":12.2},{"d":335.1,"v":12.6},{"d":335.9,"v":12.4},{"d":336.7,"v":12.2},{"d":337.6,"v":12.8},{"d":338.6,"v":13.3},{"d":339.6,"v":12.8},{"d":340.6,"v":12.4},{"d":341.7,"v":12.8},{"d":342.7,"v":12.7},{"d":343.7,"v":12.4},{"d":344.7,"v":13.1},{"d":345.5,"v":13.9},{"d":346.2,"v":15.2},{"d":346.9,"v":16.0},{"d":347.6,"v":16.1},{"d":348.4,"v":14.6},{"d":349.4,"v":14.2},{"d":350,"v":15.2},{"d":350.7,"v":16.5},{"d":351.7,"v":16.7},{"d":352.7,"v":16.0},{"d":353.7,"v":16.2},{"d":354.7,"v":16.5},{"d":356,"v":16.8},{"d":356.7,"v":17.9},{"d":357.5,"v":19.1},{"d":358.6,"v":19.1},{"d":359.4,"v":18.2},{"d":360.4,"v":18.1},{"d":361.4,"v":18.7},{"d":362.4,"v":18.3},{"d":363.3,"v":17.5},{"d":364,"v":19.0},{"d":364.8,"v":20.5},{"d":365.5,"v":21.9}]
},
"layer": [
{
"data": {"name": "bounds"},
"mark": {"type": "rule", "color": "#cccccc", "strokeWidth": 1.5},
"encoding": {
"x": {"field": "d", "type": "quantitative", "scale": {"domain": [-13.56, 374.12], "nice": false, "zero": false},
"axis": {"orient": "top", "values": [15.5, 46, 76.5, 107.5, 137, 166.5, 197, 227.5, 258, 288.5, 319.5, 350], "labelExpr": "['O','N','D','J','F','M','A','M','J','J','A','S'][indexof([15.5, 46, 76.5, 107.5, 137, 166.5, 197, 227.5, 258, 288.5, 319.5, 350], datum.value)]", "ticks": false, "tickSize": 0, "labelFontSize": 28, "labelPadding": 9, "labelBaseline": "alphabetic", "labelAlign": "center", "grid": false, "domainWidth": 2.5, "title": null}}
}
},
{
"data": {"values": [{}]},
"mark": {"type": "rule", "color": "black", "strokeDash": [7, 4], "strokeWidth": 1.5},
"encoding": {"y": {"datum": 0, "type": "quantitative", "scale": {"domain": [-2.28, 60.8], "nice": false, "zero": false}, "axis": null}}
},
{
"data": {"name": "s1"},
"mark": {"type": "line", "strokeWidth": 2.8},
"encoding": {
"x": {"field": "d", "type": "quantitative", "axis": {"orient": "bottom", "values": [0, 100, 200, 300], "tickSize": 24, "tickWidth": 2.5, "domainWidth": 2.5, "labelFontSize": 54, "labelBaseline": "alphabetic", "labelAlign": "center", "labelPadding": 61, "grid": true, "gridColor": "#c8c8c8", "gridDash": [2, 8], "gridWidth": 2, "title": "dagar frá 1. október", "titleFontSize": 64, "titleX": 650, "titleY": 172, "titleAlign": "center", "titleBaseline": "alphabetic", "titleAnchor": null}},
"y": {"field": "v", "type": "quantitative", "axis": {"values": [0, 10, 20, 30, 40, 50, 60], "tickSize": 24, "tickWidth": 2.5, "domainWidth": 2.5, "labelFontSize": 56, "labelAngle": 270, "labelAlign": "center", "labelBaseline": "alphabetic", "labelPadding": 31, "grid": true, "gridColor": "#c8c8c8", "gridDash": [2, 8], "gridWidth": 2, "title": "m³/s", "titleFontSize": 76, "titleAngle": 270, "titleX": -150, "titleY": 492, "titleAlign": "center", "titleBaseline": "alphabetic"}},
"color": {"datum": "1981–2010", "type": "nominal", "scale": {"domain": ["1981–2010", "2001–2030", "2021–2050", "2051–2080", "2071–2100"], "range": ["#3B5FD2", "#ADD8E6", "#00F000", "#FFA500", "#FF0000"]},
"legend": {"orient": "none", "legendX": 8, "legendY": 20.5, "title": null, "symbolType": "stroke", "symbolSize": 3249, "symbolStrokeWidth": 2.5, "labelFontSize": 31, "labelFont": "Liberation Sans", "labelColor": "black", "labelOffset": 24, "clipHeight": 37, "rowPadding": 0, "padding": 0}}
}
},
{
"data": {"name": "s2"},
"mark": {"type": "line", "strokeWidth": 2.8},
"encoding": {
"x": {"field": "d", "type": "quantitative", "axis": null},
"y": {"field": "v", "type": "quantitative", "axis": null},
"color": {"datum": "2001–2030", "type": "nominal"}
}
},
{
"data": {"name": "s3"},
"mark": {"type": "line", "strokeWidth": 2.8},
"encoding": {
"x": {"field": "d", "type": "quantitative", "axis": null},
"y": {"field": "v", "type": "quantitative", "axis": null},
"color": {"datum": "2021–2050", "type": "nominal"}
}
},
{
"data": {"name": "s4"},
"mark": {"type": "line", "strokeWidth": 2.8},
"encoding": {
"x": {"field": "d", "type": "quantitative", "axis": null},
"y": {"field": "v", "type": "quantitative", "axis": null},
"color": {"datum": "2051–2080", "type": "nominal"}
}
},
{
"data": {"name": "s5"},
"mark": {"type": "line", "strokeWidth": 2.8},
"encoding": {
"x": {"field": "d", "type": "quantitative", "axis": null},
"y": {"field": "v", "type": "quantitative", "axis": null},
"color": {"datum": "2071–2100", "type": "nominal"}
}
},
{
"data": {"name": "shafts"},
"mark": {"type": "rule", "color": "#e3e3e3", "opacity": 0.5, "strokeWidth": 28, "strokeCap": "butt"},
"encoding": {
"x": {"field": "x", "type": "quantitative", "axis": null},
"y": {"field": "y", "type": "quantitative", "axis": null},
"x2": {"field": "x2"},
"y2": {"field": "y2"}
}
},
{
"data": {"name": "heads"},
"mark": {"type": "point", "shape": "M0,-1L1,1L-1,1Z", "filled": true, "color": "#e3e3e3", "opacity": 0.5, "size": 11025, "strokeWidth": 0},
"encoding": {
"x": {"field": "x", "type": "quantitative", "axis": null},
"y": {"field": "y", "type": "quantitative", "axis": null},
"angle": {"field": "a", "type": "quantitative", "scale": null}
}
}
],
"resolve": {"axis": {"x": "independent", "y": "independent"}}
}
